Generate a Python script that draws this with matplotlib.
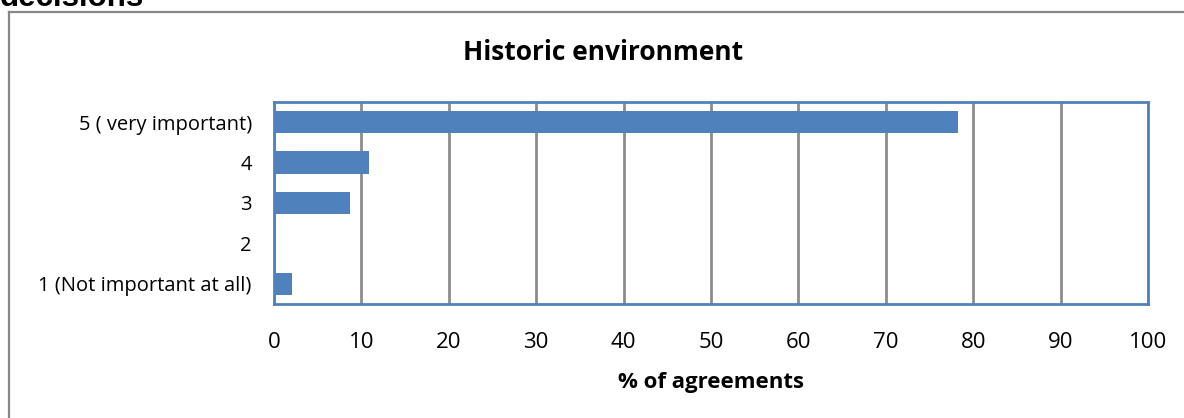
import matplotlib
matplotlib.use("Agg")
import matplotlib.pyplot as plt
from matplotlib.lines import Line2D

categories = ["1 (Not important at all)", "2", "3", "4", "5 ( very important)"]
values = [2.1, 0.0, 8.7, 10.9, 78.3]
xticks = [0, 10, 20, 30, 40, 50, 60, 70, 80, 90, 100]

BLUE = "#4F81BD"
GRID = "#8C8C8C"
FONT = ["Open Sans", "DejaVu Sans"]

W, H = 1184, 418
fig = plt.figure(figsize=(W / 100, H / 100), dpi=100)

# outer chart frame (left and top edges)
fig.add_artist(Line2D([9 / W, 9 / W], [0, 1 - 12 / H], transform=fig.transFigure,
                      color="#888888", lw=1.6))
fig.add_artist(Line2D([9 / W, 1], [1 - 12 / H, 1 - 12 / H], transform=fig.transFigure,
                      color="#888888", lw=1.6))

# heading from the page above, cut off at the top edge
fig.text(0 / W, 1 - 6 / H, "decisions", family=["Liberation Sans", "DejaVu Sans"],
         fontweight="bold", fontsize=22.5, ha="left", va="baseline", color="black")

ax = fig.add_axes([274 / W, 1 - 304 / H, 874 / W, 202 / H])
y = range(len(categories))
ax.barh(y, values, height=0.55, color=BLUE, zorder=3)

ax.set_xlim(0, 100)
ax.set_ylim(-0.5, len(categories) - 0.5)
ax.set_xticks(xticks)
ax.set_xticklabels([str(t) for t in xticks], family=FONT, fontsize=16)
ax.set_yticks(list(y))
ax.set_yticklabels(categories, family=FONT, fontsize=14.5)
ax.tick_params(axis="both", length=0, colors="black")
ax.tick_params(axis="x", pad=20)
ax.tick_params(axis="y", pad=16)

ax.grid(axis="x", color=GRID, lw=2, zorder=1)
ax.grid(axis="y", visible=False)
for s in ax.spines.values():
    s.set_color(BLUE)
    s.set_linewidth(2)
    s.set_zorder(4)

ax.set_xlabel("% of agreements", family=FONT, fontweight="bold", fontsize=16, labelpad=14)
fig.text(603 / W, 1 - 53 / H, "Historic environment", family=FONT, fontweight="bold",
         fontsize=19, ha="center", va="center")

fig.savefig("out.png", dpi=100, facecolor="white")
